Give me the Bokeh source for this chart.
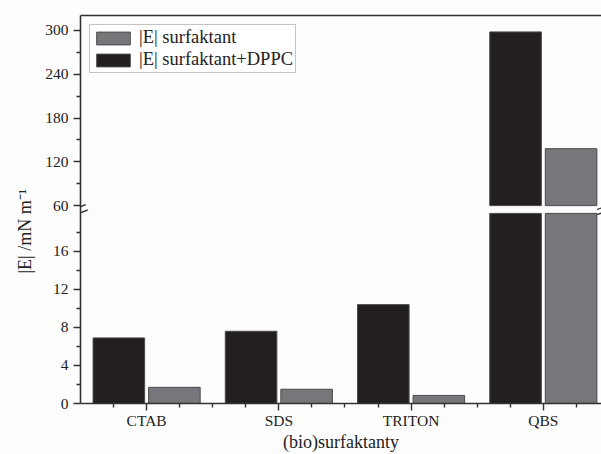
import numpy as np
from bokeh.plotting import figure
from bokeh.models import Range1d, FixedTicker, Legend, LegendItem, Label, LinearAxis, Title
from bokeh.embed import file_html
from bokeh.resources import INLINE

# ---- data ----
categories = ["CTAB", "SDS", "TRITON", "QBS"]
e_surf = [1.7, 1.5, 0.85, 138]          # |E| surfaktant (grey)
e_surf_dppc = [6.9, 7.6, 10.4, 298]     # |E| surfaktant+DPPC (black)
series_labels = ["|E| surfaktant", "|E| surfaktant+DPPC"]
lower_ticks = [0, 4, 8, 12, 16]
lower_minor = [2, 6, 10, 14, 18]
upper_ticks = [60, 120, 180, 240, 300]
upper_minor = [90, 150, 210, 270]
x_title = "(bio)surfaktanty"
y_title = "|E| /mN m\u207b\u00b9"

# ---- broken axis geometry ----
LOW = (0.0, 20.0)
UP = (60.0, 320.5)
GAP = 0.02
sec = (1 - GAP) / 2
l_end = LOW[1] / sec
u_span = (UP[1] - UP[0]) / sec
u_start = UP[1] - u_span


def to_low(v):
    return round((v - u_start) / u_span * l_end, 6)


FONT = "Liberation Serif"
BG = "#fdfdfd"
AX = "#333333"
TXT = "#222222"
BLACK = "#231f20"
GREY = "#77777b"
X0, X1 = 0.5, 4.44

p = figure(width=601, height=454, output_backend="svg", toolbar_location=None,
           x_range=Range1d(X0, X1), y_range=Range1d(0, l_end),
           min_border_left=80, min_border_top=15, min_border_right=0,
           background_fill_color=BG, border_fill_color=BG)
p.extra_y_ranges = {"upper": Range1d(u_start, UP[1])}
p.outline_line_color = None
p.xgrid.visible = False
p.ygrid.visible = False

x = np.arange(1, len(categories) + 1)
off, bw = 0.21, 0.39
sd = np.array(e_surf_dppc, dtype=float)
ss = np.array(e_surf, dtype=float)

# lower section
r_d = p.vbar(x=x - off, top=np.minimum(sd, LOW[1]), bottom=0, width=bw,
             fill_color=BLACK, line_color="#4a4a4a", line_width=1)
r_s = p.vbar(x=x + off, top=np.minimum(ss, LOW[1]), bottom=0, width=bw,
             fill_color=GREY, line_color="#4a4a4a", line_width=1)
# upper section
md = sd > UP[0]
ms = ss > UP[0]
p.vbar(x=(x - off)[md], top=sd[md], bottom=UP[0], width=bw, y_range_name="upper",
       fill_color=BLACK, line_color="#4a4a4a", line_width=1)
p.vbar(x=(x + off)[ms], top=ss[ms], bottom=UP[0], width=bw, y_range_name="upper",
       fill_color=GREY, line_color="#4a4a4a", line_width=1)

# y axis ticks (mapped into the lower scale)
y_major = [float(t) for t in lower_ticks] + [to_low(t) for t in upper_ticks]
y_minor = [float(t) for t in lower_minor] + [to_low(t) for t in upper_minor]
overrides = {float(t): str(t) for t in lower_ticks}
overrides.update({to_low(t): str(t) for t in upper_ticks})
yax = p.yaxis[0]
yax.ticker = FixedTicker(ticks=y_major, minor_ticks=y_minor)
yax.major_label_overrides = overrides

xax = p.xaxis[0]
xax.ticker = FixedTicker(ticks=list(map(float, x)),
                         minor_ticks=[v for v in np.arange(0.75, 4.4, 0.25) if v % 1 != 0])
xax.major_label_overrides = {float(i): c for i, c in zip(x, categories)}
xax.axis_label = x_title

# top frame line
top_ax = LinearAxis(ticker=FixedTicker(ticks=[]))
p.add_layout(top_ax, "above")

for ax in (xax, yax, top_ax):
    ax.axis_line_color = AX
    ax.axis_line_width = 1.6
    ax.major_tick_line_color = AX
    ax.minor_tick_line_color = AX
    ax.major_tick_line_width = 1.4
    ax.minor_tick_line_width = 1.4
    ax.major_tick_in = 0
    ax.minor_tick_in = 0
    ax.major_tick_out = 7
    ax.minor_tick_out = 4
    ax.major_label_text_font = FONT
    ax.major_label_text_font_size = "15.5px"
    ax.major_label_text_color = TXT
    ax.axis_label_text_font = FONT
    ax.axis_label_text_font_style = "normal"
    ax.axis_label_text_font_size = "18px"
    ax.axis_label_text_color = TXT
top_ax.major_tick_out = 0
top_ax.minor_tick_out = 0
xax.major_label_standoff = 1
xax.axis_label_standoff = 0
yax.major_label_standoff = 5

# axis break mark on the left axis
p.add_layout(Label(x=X0, y=0.5 * l_end, text="=", angle=0.38, text_font=FONT,
                   text_font_size="28px", text_align="center", text_baseline="middle",
                   text_color=AX))
# break mark of the (cropped) right axis, drawn as two short strokes
bxc, bdx, bdy, bsep = 4.462, 0.057, 0.27, 0.27
yc = 0.5 * l_end
p.segment(x0=[bxc - bdx] * 2, x1=[bxc + bdx] * 2,
          y0=[yc - bsep - bdy, yc + bsep - bdy], y1=[yc - bsep + bdy, yc + bsep + bdy],
          line_color=AX, line_width=1.3)

# y title (left panel)
p.add_layout(Title(text=y_title, align="left", offset=130, text_font=FONT,
                   text_font_size="18px", text_font_style="normal", text_color=TXT,
                   standoff=16), "left")

legend = Legend(items=[LegendItem(label=series_labels[0], renderers=[r_s]),
                       LegendItem(label=series_labels[1], renderers=[r_d])],
                location="top_left", margin=9, padding=2, spacing=1,
                glyph_width=42, glyph_height=16, label_standoff=5, label_height=16,
                label_text_font=FONT, label_text_font_size="18.5px", label_text_color=TXT,
                border_line_color="#888888", border_line_width=1.2,
                background_fill_color="#ffffff", background_fill_alpha=1)
p.add_layout(legend)

open("out.html", "w").write(file_html(p, INLINE))
